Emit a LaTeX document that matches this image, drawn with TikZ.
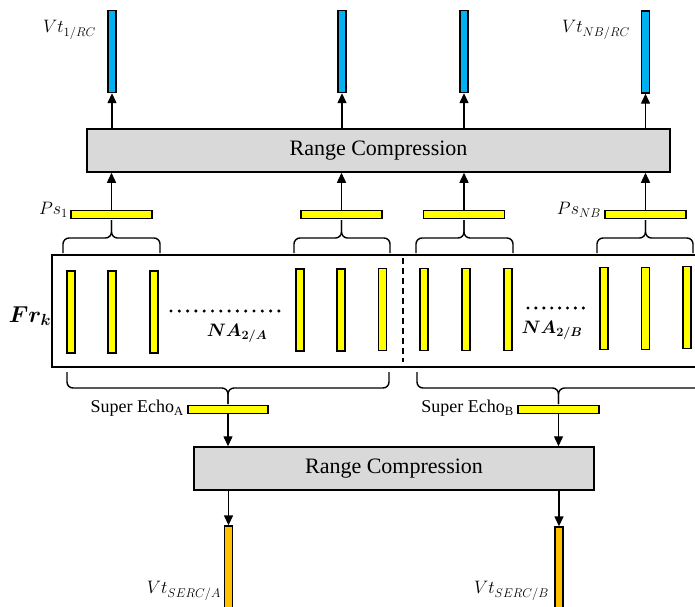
\RequirePackage{fix-cm}
\documentclass[tikz,border=0pt]{standalone}
\usepackage{amsmath}
\usepackage{fontspec}
\setmainfont{Liberation Serif}
\usetikzlibrary{arrows.meta}
\definecolor{boxgray}{RGB}{217,217,217}
\definecolor{ylw}{RGB}{255,255,0}
\definecolor{cyanbar}{RGB}{0,176,240}
\definecolor{orng}{RGB}{255,192,0}
\newcommand\upbrace[6]{% L M R yend ymid ytip
  \draw[brc] (#1,#4) -- (#1,#5) -- (#2,#5) -- (#2,#6);
  \draw[brc] (#3,#4) -- (#3,#5) -- (#2,#5) -- (#2,#6);}
\begin{document}
\begin{tikzpicture}[x=1pt,y=-1pt,
  box/.style={draw, line width=1.5pt, fill=boxgray, inner sep=0, font=\fontsize{22}{24}\selectfont},
  vbar/.style={draw, line width=1.4pt, inner sep=0, minimum width=8pt, minimum height=82pt},
  hbar/.style={draw, line width=1.4pt, inner sep=0, fill=ylw, minimum width=81pt, minimum height=8pt},
  arr/.style={line width=1.4pt, -{Triangle[length=10pt,width=9pt]}},
  brc/.style={line width=1.4pt, rounded corners=6pt},
  lbl/.style={inner sep=0, font=\fontsize{18}{20}\selectfont},
  blbl/.style={inner sep=0, font=\fontsize{18}{22}\selectfont},
]
\useasboundingbox (0,0) rectangle (695,606);
\clip (0,0) rectangle (695,606);

% top output bars
\node[vbar, fill=cyanbar] (v1) at (112,51.5) {};
\node[vbar, fill=cyanbar] (v2) at (342,51.5) {};
\node[vbar, fill=cyanbar] (v3) at (464,51.5) {};
\node[vbar, fill=cyanbar] (v4) at (645.5,52) {};
\node[lbl, anchor=east] (lv1) at (96,30) {$Vt_{1/RC}$};
\node[lbl, anchor=east] (lv4) at (630,30) {$Vt_{NB/RC}$};

% top range compression
\node[box, minimum width=583pt, minimum height=43pt] (rc1) at (378.5,150.5) {Range Compression};

% Ps bars
\node[hbar] (ps1) at (111.5,214.5) {};
\node[hbar] (ps2) at (341.5,214.5) {};
\node[hbar] (ps3) at (464,214.5) {};
\node[hbar] (ps4) at (645.5,214.5) {};
\node[lbl, anchor=east] (lps1) at (68,210) {$Ps_1$};
\node[lbl, anchor=east] (lps4) at (601,210) {$Ps_{NB}$};

\foreach \p/\v in {ps1/v1,ps2/v2,ps3/v3,ps4/v4}{
  \draw[arr] (\p.north) -- (\p.north |- rc1.south);
  \draw[arr] (\v.south |- rc1.north) -- (\v.south);
}

% braces under Ps bars
\upbrace{63}{111.5}{160}{253}{238}{220}
\upbrace{294}{341.5}{390}{253}{238}{220}
\upbrace{416}{464}{513}{253}{238}{220}
\upbrace{597}{645.5}{693}{253}{238}{220}

% frame
\draw[line width=1.5pt] (52,255) rectangle (720,367);
\node[inner sep=0] (lfr) at (30,316) {\fontsize{23}{25}\selectfont$\boldsymbol{Fr_k}$};

% yellow vertical bars
\foreach \x/\y [count=\i] in {71/312,112/312,154/312,300/310,341/310,382.5/309.5,424/309.5,466/309.5,508/309.5,604/308.5,645.5/308.5,687/307.5}{
  \node[vbar, fill=ylw] (a\i) at (\x,\y) {};
}
\draw[line width=1.4pt, dash pattern=on 6pt off 4pt] (403,258) -- (403,362);
\foreach \i in {0,...,13} \fill (171+\i*8.3,311) circle (1.7pt);
\foreach \i in {0,...,7} \fill (528+\i*7.9,308) circle (1.7pt);
\node[blbl] (lna) at (237,333) {$\boldsymbol{NA_{2/A}}$};
\node[blbl] (lnb) at (552,330) {$\boldsymbol{NA_{2/B}}$};

% braces under frame
\upbrace{67}{228}{389}{372}{388}{404}
\upbrace{417}{558.5}{710}{372}{388}{404}

% super echo bars
\node[hbar, minimum width=80pt] (seA) at (228,409.5) {};
\node[hbar, minimum width=81pt] (seB) at (558.5,409.5) {};
\node[anchor=east, inner sep=0, font=\fontsize{18}{20}\selectfont] (lseA) at (184,408) {Super Echo\textsubscript{A}};
\node[anchor=east, inner sep=0, font=\fontsize{18}{20}\selectfont] (lseB) at (514,408) {Super Echo\textsubscript{B}};

% bottom range compression
\node[box, minimum width=400pt, minimum height=43pt] (rc2) at (394,468.5) {Range Compression};

% orange bars
\node[vbar, fill=orng, minimum height=100pt] (oA) at (228.5,576) {};
\node[vbar, fill=orng, minimum height=100pt] (oB) at (559,577) {};
\node[lbl, anchor=east] (loA) at (221,591) {$Vt_{SERC/A}$};
\node[lbl, anchor=east] (loB) at (549,591) {$Vt_{SERC/B}$};

\draw[arr] (seA.south) -- (seA.south |- rc2.north);
\draw[arr] (seB.south) -- (seB.south |- rc2.north);
\draw[arr] (oA.north |- rc2.south) -- (oA.north);
\draw[arr] (oB.north |- rc2.south) -- (oB.north);
\end{tikzpicture}
\end{document}
